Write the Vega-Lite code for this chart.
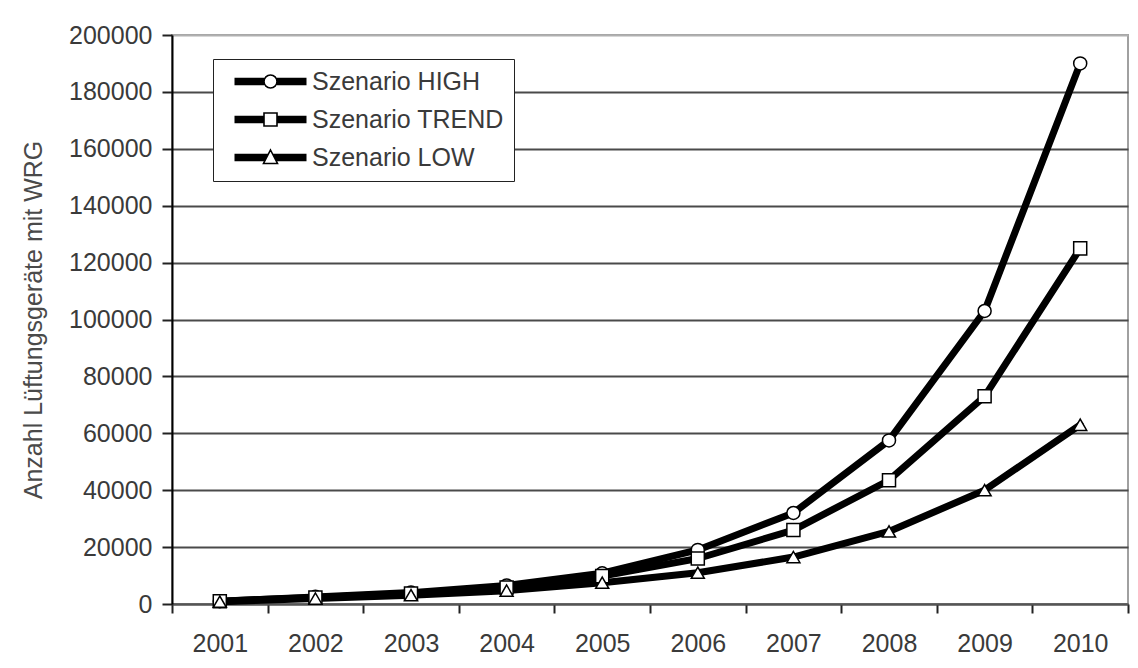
{
  "$schema": "https://vega.github.io/schema/vega-lite/v6.json",
  "width": 956,
  "height": 569,
  "autosize": {"type": "none"},
  "padding": {"left": 172, "top": 35, "right": 10, "bottom": 64},
  "background": "white",
  "config": {
    "font": "Liberation Sans",
    "view": {"stroke": "#a0a0a0", "strokeWidth": 2},
    "axis": {"labelFont": "Liberation Sans", "labelFontSize": 25, "labelColor": "#3a3a3a", "titleFont": "Liberation Sans"},
    "legend": {"labelFont": "Liberation Sans"}
  },
  "data": {
    "values": [
      {"jahr": 2001, "szenario": "Szenario HIGH", "anzahl": 1000},
      {"jahr": 2002, "szenario": "Szenario HIGH", "anzahl": 2500},
      {"jahr": 2003, "szenario": "Szenario HIGH", "anzahl": 4000},
      {"jahr": 2004, "szenario": "Szenario HIGH", "anzahl": 6500},
      {"jahr": 2005, "szenario": "Szenario HIGH", "anzahl": 10800},
      {"jahr": 2006, "szenario": "Szenario HIGH", "anzahl": 19000},
      {"jahr": 2007, "szenario": "Szenario HIGH", "anzahl": 32000},
      {"jahr": 2008, "szenario": "Szenario HIGH", "anzahl": 57500},
      {"jahr": 2009, "szenario": "Szenario HIGH", "anzahl": 103000},
      {"jahr": 2010, "szenario": "Szenario HIGH", "anzahl": 190000},
      {"jahr": 2001, "szenario": "Szenario TREND", "anzahl": 1000},
      {"jahr": 2002, "szenario": "Szenario TREND", "anzahl": 2300},
      {"jahr": 2003, "szenario": "Szenario TREND", "anzahl": 3700},
      {"jahr": 2004, "szenario": "Szenario TREND", "anzahl": 5800},
      {"jahr": 2005, "szenario": "Szenario TREND", "anzahl": 9800},
      {"jahr": 2006, "szenario": "Szenario TREND", "anzahl": 16000},
      {"jahr": 2007, "szenario": "Szenario TREND", "anzahl": 26000},
      {"jahr": 2008, "szenario": "Szenario TREND", "anzahl": 43500},
      {"jahr": 2009, "szenario": "Szenario TREND", "anzahl": 73000},
      {"jahr": 2010, "szenario": "Szenario TREND", "anzahl": 125000},
      {"jahr": 2001, "szenario": "Szenario LOW", "anzahl": 800},
      {"jahr": 2002, "szenario": "Szenario LOW", "anzahl": 1900},
      {"jahr": 2003, "szenario": "Szenario LOW", "anzahl": 3100},
      {"jahr": 2004, "szenario": "Szenario LOW", "anzahl": 4700},
      {"jahr": 2005, "szenario": "Szenario LOW", "anzahl": 7500},
      {"jahr": 2006, "szenario": "Szenario LOW", "anzahl": 11000},
      {"jahr": 2007, "szenario": "Szenario LOW", "anzahl": 16500},
      {"jahr": 2008, "szenario": "Szenario LOW", "anzahl": 25500},
      {"jahr": 2009, "szenario": "Szenario LOW", "anzahl": 40000},
      {"jahr": 2010, "szenario": "Szenario LOW", "anzahl": 63000}
    ]
  },
  "layer": [
    {
      "mark": {"type": "line", "strokeWidth": 7, "strokeJoin": "round", "strokeCap": "round"},
      "encoding": {
        "x": {
          "field": "jahr", "type": "quantitative",
          "scale": {"domain": [2000.5, 2010.5], "nice": false, "zero": false},
          "axis": {
            "orient": "bottom", "title": null, "labels": false, "grid": false,
            "values": [2000.5, 2001.5, 2002.5, 2003.5, 2004.5, 2005.5, 2006.5, 2007.5, 2008.5, 2009.5, 2010.5],
            "ticks": true, "tickColor": "#222", "tickSize": 9, "tickWidth": 2,
            "domain": true, "domainColor": "#555", "domainWidth": 2
          }
        },
        "y": {
          "field": "anzahl", "type": "quantitative",
          "scale": {"domain": [0, 200000], "nice": false},
          "axis": {
            "title": "Anzahl Lüftungsgeräte mit WRG",
            "titleFontSize": 25, "titleFontWeight": "normal", "titleColor": "#4a4a4a", "titlePadding": 22,
            "values": [0, 20000, 40000, 60000, 80000, 100000, 120000, 140000, 160000, 180000, 200000],
            "format": "d", "labelPadding": 10,
            "domain": true, "domainColor": "black", "domainWidth": 2,
            "ticks": true, "tickColor": "#222", "tickSize": 10, "tickWidth": 2,
            "grid": true, "gridWidth": 2,
            "gridColor": {"condition": {"test": "datum.value == 200000", "value": "#b0b0b0"}, "value": "#4a4a4a"}
          }
        },
        "color": {
          "field": "szenario", "type": "nominal",
          "scale": {"domain": ["Szenario HIGH", "Szenario TREND", "Szenario LOW"], "range": ["black", "black", "black"]},
          "legend": {
            "orient": "none", "legendX": 41, "legendY": 24, "title": null,
            "symbolSize": 4, "symbolStrokeWidth": 1.6, "symbolStrokeColor": "black", "symbolFillColor": "white",
            "labelFontSize": 25, "labelColor": "#3a3a3a", "labelOffset": 64, "labelLimit": 400,
            "strokeColor": "#222", "fillColor": "white", "padding": 10, "rowPadding": 12,
            "encode": {
              "symbols": {
                "update": {
                  "shape": {"signal": "datum.value == 'Szenario HIGH' ? 'M-1,-3H28.5M41.5,-3H71M-1,-1.5H28.5M41.5,-1.5H71M-1,0H28.5M41.5,0H71M-1,1.5H28.5M41.5,1.5H71M-1,3H28.5M41.5,3H71M28.5,0A6.5 6.5 0 1 0 41.5 0A6.5 6.5 0 1 0 28.5 0Z' : datum.value == 'Szenario TREND' ? 'M-1,-3H28.5M41.5,-3H71M-1,-1.5H28.5M41.5,-1.5H71M-1,0H28.5M41.5,0H71M-1,1.5H28.5M41.5,1.5H71M-1,3H28.5M41.5,3H71M28.5,-6.5H41.5V6.5H28.5Z' : 'M-1,-3H32.7M37.3,-3H71M-1,-1.5H31.9M38.1,-1.5H71M-1,0H31.1M38.9,0H71M-1,1.5H30.3M39.7,1.5H71M-1,3H29.6M40.4,3H71M35,-7.5L42,6H28Z'"},
                  "size": {"value": 4},
                  "fill": {"value": "white"},
                  "fillOpacity": {"value": 1},
                  "stroke": {"value": "black"},
                  "strokeWidth": {"value": 1.6},
                  "strokeOpacity": {"value": 1},
                  "opacity": {"value": 1}
                }
              }
            }
          }
        }
      }
    },
    {
      "mark": {"type": "point", "filled": true, "fill": "white", "fillOpacity": 1, "stroke": "black", "strokeWidth": 1.5, "opacity": 1, "size": 170},
      "encoding": {
        "x": {
          "field": "jahr", "type": "quantitative",
          "scale": {"domain": [2000.5, 2010.5], "nice": false, "zero": false},
          "axis": {
            "orient": "bottom", "title": null, "grid": false, "ticks": false, "domain": false,
            "values": [2001, 2002, 2003, 2004, 2005, 2006, 2007, 2008, 2009, 2010],
            "format": "d", "labelPadding": 27
          }
        },
        "y": {"field": "anzahl", "type": "quantitative"},
        "shape": {
          "field": "szenario", "type": "nominal",
          "scale": {"domain": ["Szenario HIGH", "Szenario LOW", "Szenario TREND"], "range": ["circle", "triangle-up", "square"]},
          "legend": null
        }
      }
    }
  ],
  "resolve": {"axis": {"x": "independent"}}
}
